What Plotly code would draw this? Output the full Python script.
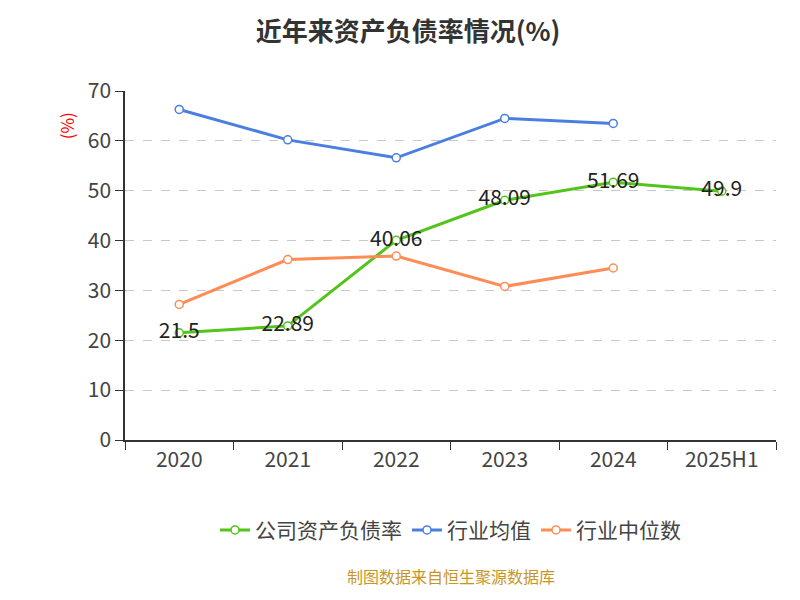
import plotly.graph_objects as go

years = ["2020", "2021", "2022", "2023", "2024", "2025H1"]
company = [21.5, 22.89, 40.06, 48.09, 51.69, 49.9]
industry_avg = [66.3, 60.2, 56.6, 64.5, 63.5]
industry_median = [27.2, 36.2, 36.9, 30.8, 34.5]

x_all = list(range(len(years)))
font = "Noto Sans CJK SC"

fig = go.Figure()
fig.add_trace(go.Scatter(
    x=x_all, y=company, name="公司资产负债率", mode="lines+markers+text",
    line=dict(color="#52c41a", width=3),
    marker=dict(size=8, color="white", line=dict(color="#52c41a", width=1.5)),
    text=[str(v) for v in company], textposition="middle center",
    textfont=dict(size=21, color="#222"),
))
fig.add_trace(go.Scatter(
    x=x_all[:5], y=industry_avg, name="行业均值", mode="lines+markers",
    line=dict(color="#4a7fe0", width=3),
    marker=dict(size=8, color="white", line=dict(color="#4a7fe0", width=1.5)),
))
fig.add_trace(go.Scatter(
    x=x_all[:5], y=industry_median, name="行业中位数", mode="lines+markers",
    line=dict(color="#ff8c55", width=3),
    marker=dict(size=8, color="white", line=dict(color="#ff8c55", width=1.5)),
))

fig.update_layout(
    width=800, height=600, plot_bgcolor="white", paper_bgcolor="white",
    font=dict(family=font, size=21, color="#444"),
    margin=dict(l=117, r=32, t=83, b=168, autoexpand=False),
    title=dict(text="<b>近年来资产负债率情况(%)</b>", x=0.5, y=0.975,
               xanchor="center", yanchor="top", font=dict(size=26, color="#333")),
    legend=dict(orientation="h", x=0.5, xanchor="center", y=-0.2, yanchor="top",
                font=dict(size=21)),
    xaxis=dict(range=[-0.5, 5.5], tickvals=x_all, ticktext=years,
               showline=True, linecolor="#333", linewidth=1.5, ticks="",
               showgrid=False, zeroline=False,
               minor=dict(tick0=-0.5, dtick=1, ticks="outside", ticklen=8,
                          tickcolor="#333", showgrid=False)),
    yaxis=dict(range=[0, 70], dtick=10, showline=True, linecolor="#333", linewidth=1.5,
               ticks="outside", ticklen=8, tickcolor="#333",
               gridcolor="#c8c8c8", griddash="dash", zeroline=False),
    annotations=[
        dict(text="(%)", x=-0.09, y=0.9, xref="paper", yref="paper", showarrow=False,
             textangle=-90, xanchor="center", yanchor="middle",
             font=dict(size=17, color="red")),
        dict(text="制图数据来自恒生聚源数据库", x=0.5, y=-0.43, xref="paper", yref="paper",
             showarrow=False, font=dict(size=16, color="#c8961e")),
    ],
)
fig.write_html("out.html")
